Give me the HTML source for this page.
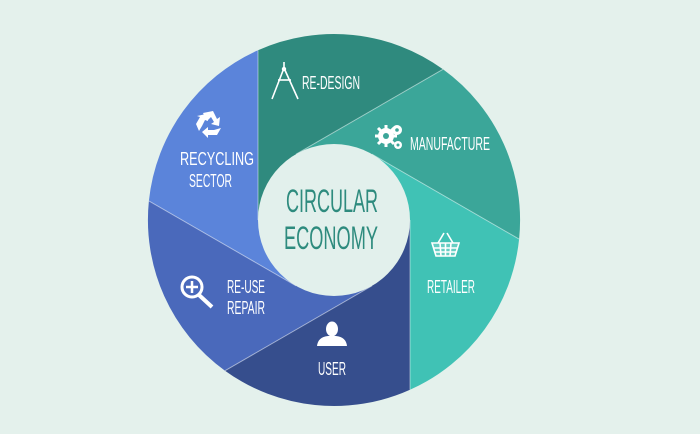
<!DOCTYPE html>
<html><head><meta charset="utf-8"><style>
html,body{margin:0;padding:0;background:#e4f1ec;}
svg{display:block}
text{font-family:"Liberation Sans Narrow","Liberation Sans",sans-serif;fill:#fff;}
</style></head><body>
<svg width="700" height="434" viewBox="0 0 700 434" xmlns="http://www.w3.org/2000/svg">
<rect width="700" height="434" fill="#e4f1ec"/>
<path d="M258,50.2 A186,186 0 0 1 443,69.3 L296,154.2 L334,220 L258,220 Z" fill="#2f8a7e"/>
<path d="M443,69.3 A186,186 0 0 1 519.1,239.1 L372,154.2 L334,220 L296,154.2 Z" fill="#3ba699"/>
<path d="M519.1,239.1 A186,186 0 0 1 410,389.8 L410,220 L334,220 L372,154.2 Z" fill="#40c2b5"/>
<path d="M410,389.8 A186,186 0 0 1 225,370.7 L372,285.8 L334,220 L410,220 Z" fill="#364e8d"/>
<path d="M225,370.7 A186,186 0 0 1 148.9,200.9 L296,285.8 L334,220 L372,285.8 Z" fill="#4a69bb"/>
<path d="M148.9,200.9 A186,186 0 0 1 258,50.2 L258,220 L334,220 L296,285.8 Z" fill="#5b84da"/>
<g stroke="#ffffff" stroke-opacity="0.45" stroke-width="1">
<line x1="258" y1="50.2" x2="258" y2="220"/>
<line x1="443" y1="69.3" x2="296" y2="154.2"/>
<line x1="519.1" y1="239.1" x2="372" y2="154.2"/>
<line x1="410" y1="389.8" x2="410" y2="220"/>
<line x1="225" y1="370.7" x2="372" y2="285.8"/>
<line x1="148.9" y1="200.9" x2="296" y2="285.8"/>
</g>
<circle cx="334" cy="220" r="76" fill="#e2f0ec"/>
<text x="332" y="212" text-anchor="middle" font-size="32" style="fill:#2e8b7e" textLength="92" lengthAdjust="spacingAndGlyphs">CIRCULAR</text>
<text x="331" y="249" text-anchor="middle" font-size="32" style="fill:#2e8b7e" textLength="94" lengthAdjust="spacingAndGlyphs">ECONOMY</text>

<text x="302" y="89" font-size="18" textLength="58" lengthAdjust="spacingAndGlyphs">RE-DESIGN</text>
<text x="410" y="150" font-size="18" textLength="80" lengthAdjust="spacingAndGlyphs">MANUFACTURE</text>
<text x="180" y="165" font-size="18" textLength="74" lengthAdjust="spacingAndGlyphs">RECYCLING</text>
<text x="189" y="187" font-size="18" textLength="43" lengthAdjust="spacingAndGlyphs">SECTOR</text>
<text x="427" y="293" font-size="18" textLength="48" lengthAdjust="spacingAndGlyphs">RETAILER</text>
<text x="227" y="293" font-size="18" textLength="38" lengthAdjust="spacingAndGlyphs">RE-USE</text>
<text x="227" y="314" font-size="18" textLength="38" lengthAdjust="spacingAndGlyphs">REPAIR</text>
<text x="318" y="375" font-size="18" textLength="28" lengthAdjust="spacingAndGlyphs">USER</text>

<g stroke="#fff" stroke-width="1.6" fill="none">
<line x1="284" y1="62" x2="284" y2="68"/>
<line x1="284" y1="68" x2="272" y2="99"/>
<line x1="284" y1="68" x2="298" y2="99"/>
<line x1="278" y1="80" x2="291" y2="80"/>
</g>
<circle cx="284" cy="69" r="2.2" fill="#fff"/>
<g fill="#fff">
<circle cx="386" cy="136" r="8"/>
<circle cx="397" cy="130" r="5"/>
<circle cx="398" cy="145" r="4"/>
</g>
<g stroke="#fff" stroke-width="3">
<line x1="386" y1="125" x2="386" y2="147"/><line x1="375" y1="136" x2="397" y2="136"/>
<line x1="378" y1="128" x2="394" y2="144"/><line x1="378" y1="144" x2="394" y2="128"/>
</g>
<circle cx="386" cy="136" r="3" fill="#3ba699"/>
<circle cx="397" cy="130" r="1.8" fill="#3ba699"/>
<circle cx="398" cy="145" r="1.5" fill="#3ba699"/>
<g fill="#fff">
<path d="M203,113 L213,111 L217,119 L220,117 L219,126 L211,124 L214,122 L211,117 L207,121 Z"/>
<path d="M221,128 L217,135 L208,135 L208,138 L202,132 L208,127 L208,130 L214,130 Z"/>
<path d="M199,131 L196,124 L200,117 L197,116 L206,114 L208,121 L205,120 L202,126 Z"/>
</g>
<g stroke="#fff" fill="none" stroke-width="1.6">
<path d="M444,233 L438,243 M447,233 L453,243"/>
<path d="M432,243 L459,243 L455,256 L436,256 Z" fill="#fff" fill-opacity="0.2"/>
<line x1="434" y1="248" x2="457" y2="248"/><line x1="435" y1="252" x2="456" y2="252"/>
<line x1="440" y1="243" x2="441" y2="256"/><line x1="445.5" y1="243" x2="445.5" y2="256"/><line x1="451" y1="243" x2="450" y2="256"/>
</g>
<g stroke="#fff" fill="none" stroke-width="3">
<circle cx="192" cy="287" r="10"/>
<line x1="199" y1="295" x2="212" y2="307" stroke-width="4"/>
<line x1="192" y1="281" x2="192" y2="293" stroke-width="2.5"/>
<line x1="186" y1="287" x2="198" y2="287" stroke-width="2.5"/>
</g>
<g fill="#fff">
<ellipse cx="332" cy="329" rx="6" ry="7.5"/>
<path d="M317,346 Q318,337 328,336 L336,336 Q346,337 347,346 Z"/>
</g>
</svg>
</body></html>
